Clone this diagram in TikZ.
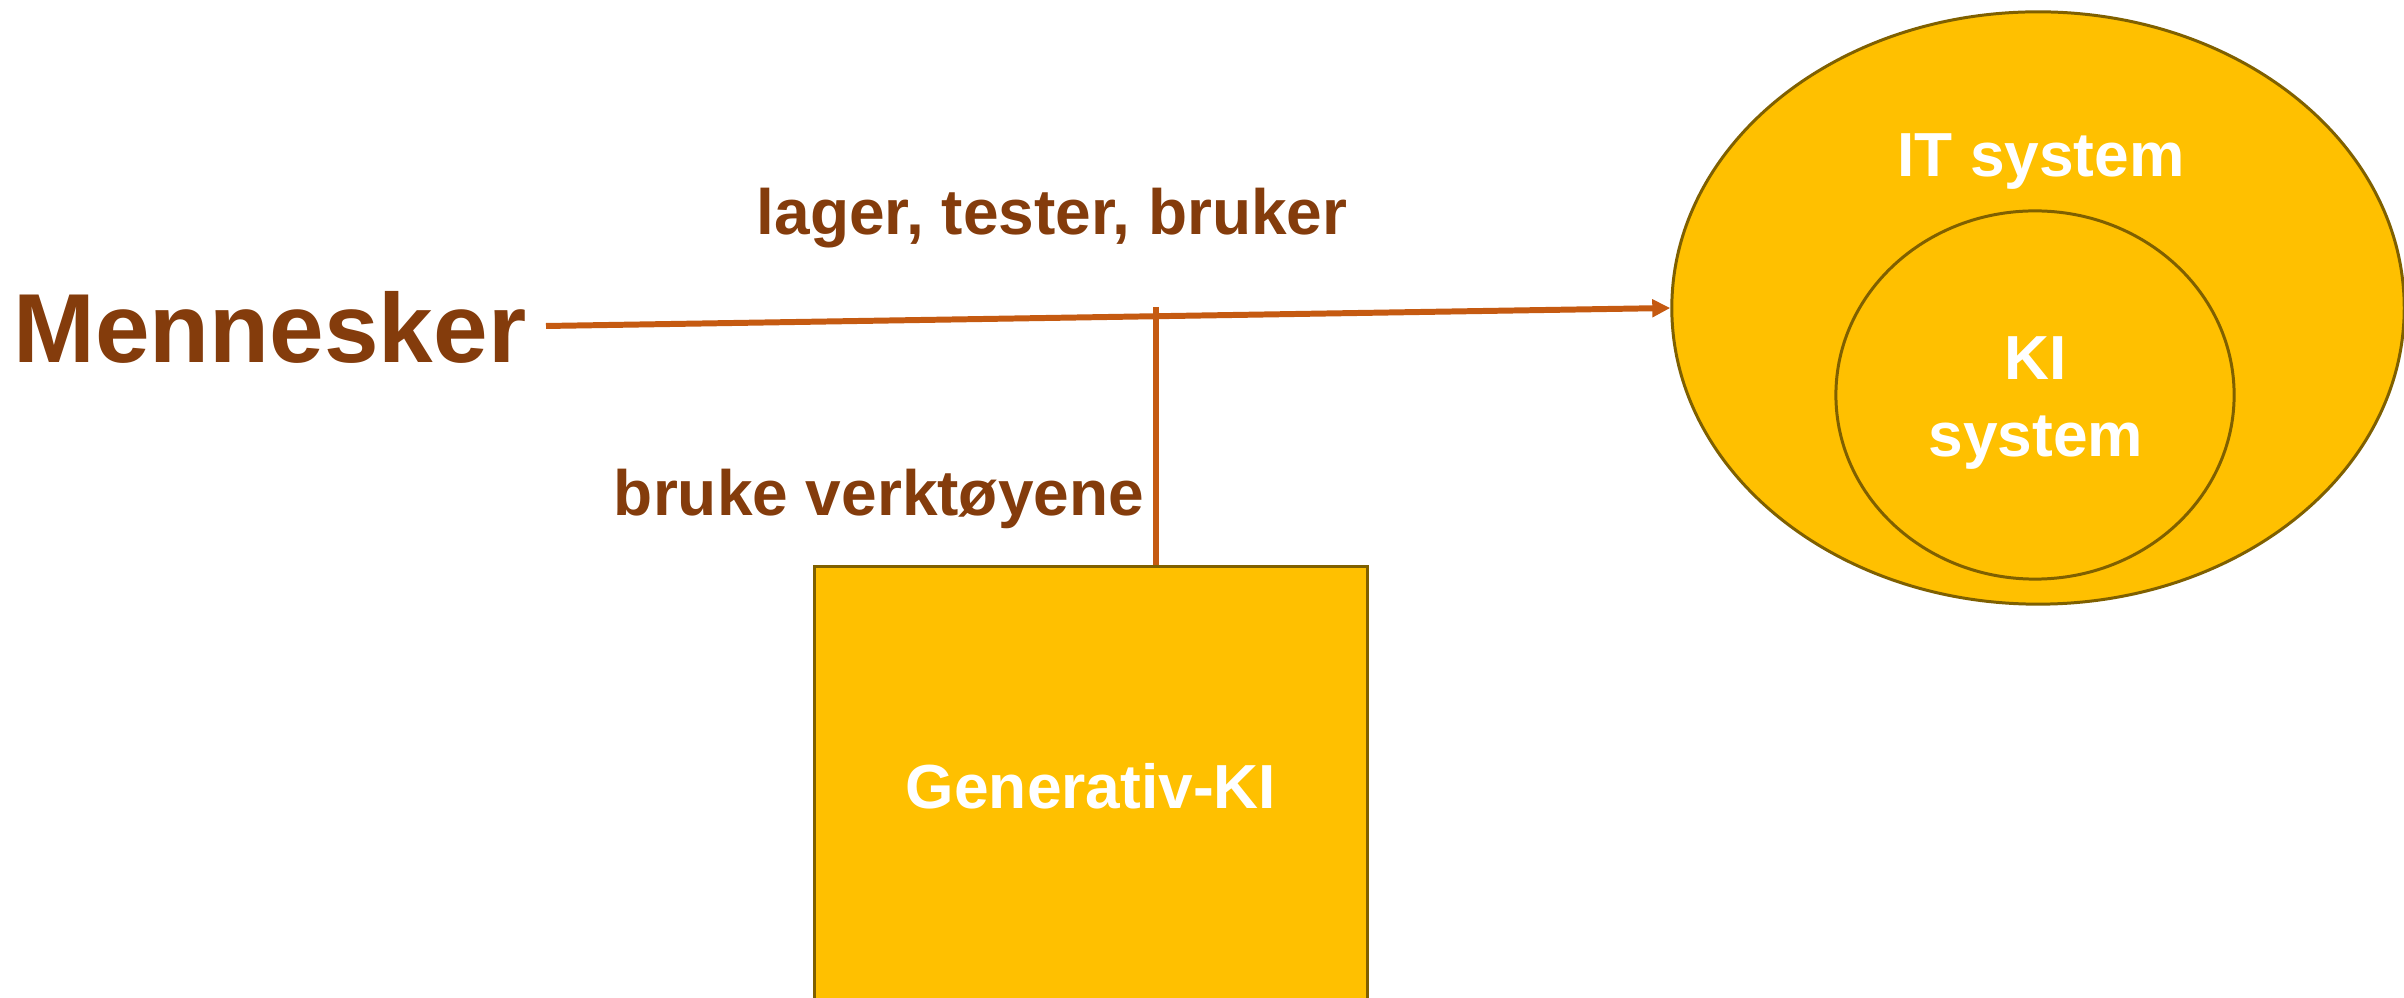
\documentclass[tikz,border=0pt]{standalone}
\usepackage{fontspec}
\setmainfont{Liberation Sans}
\usetikzlibrary{arrows.meta,shapes.geometric}
\definecolor{brn}{HTML}{843C0C}
\definecolor{arr}{HTML}{C55A11}
\definecolor{gold}{HTML}{FFC000}
\definecolor{olivebd}{HTML}{7F6000}
\begin{document}
\begin{tikzpicture}[x=0.01cm,y=-0.01cm,
  lbl/.style={font=\bfseries\fontsize{18.2}{21.9}\selectfont, text=brn, inner sep=0pt},
  wlbl/.style={font=\bfseries\fontsize{17.7}{21.9}\selectfont, text=white, inner sep=0pt},
  shapebox/.style={fill=gold, draw=olivebd, line width=0.85pt, inner sep=0pt},
  link/.style={draw=arr, line width=1.7pt}]
\clip (0,0) rectangle (2404,998);
\fill[white] (0,0) rectangle (2404,998);
% shapes
\node[shapebox, ellipse, minimum width=7.32cm, minimum height=5.92cm] (it) at (2038,308) {};
\node[shapebox, ellipse, minimum width=3.98cm, minimum height=3.68cm] (kis) at (2035,395) {};
\node[shapebox, rectangle, minimum width=5.52cm, minimum height=4.38cm, wlbl] (gen) at (1091,786) {Generativ-KI};
% labels inside ellipses
\node[wlbl, anchor=base] (itlbl) at (2041,177) {IT system};
\node[wlbl, anchor=base] (kilbl) at (2036,380) {KI};
\node[wlbl, anchor=base] (syslbl) at (2036,457) {system};
% left text
\node[font=\bfseries\fontsize{27.9}{33}\selectfont, text=brn, inner sep=0pt, anchor=base west] (men) at (13,363) {Mennesker};
\node[lbl, anchor=base] (lag) at (1052,235) {lager, tester, bruker};
\node[lbl, anchor=base] (bruk) at (879,516) {bruke verktøyene};
% connectors
\coordinate (a0) at (546,326);
\coordinate (vt) at (1156,307);
\draw[link, -{Triangle[length=0.18cm,width=0.17cm]}] (a0) -- (it.west);
\draw[link] (vt) -- (vt |- gen.north);
\end{tikzpicture}
\end{document}
